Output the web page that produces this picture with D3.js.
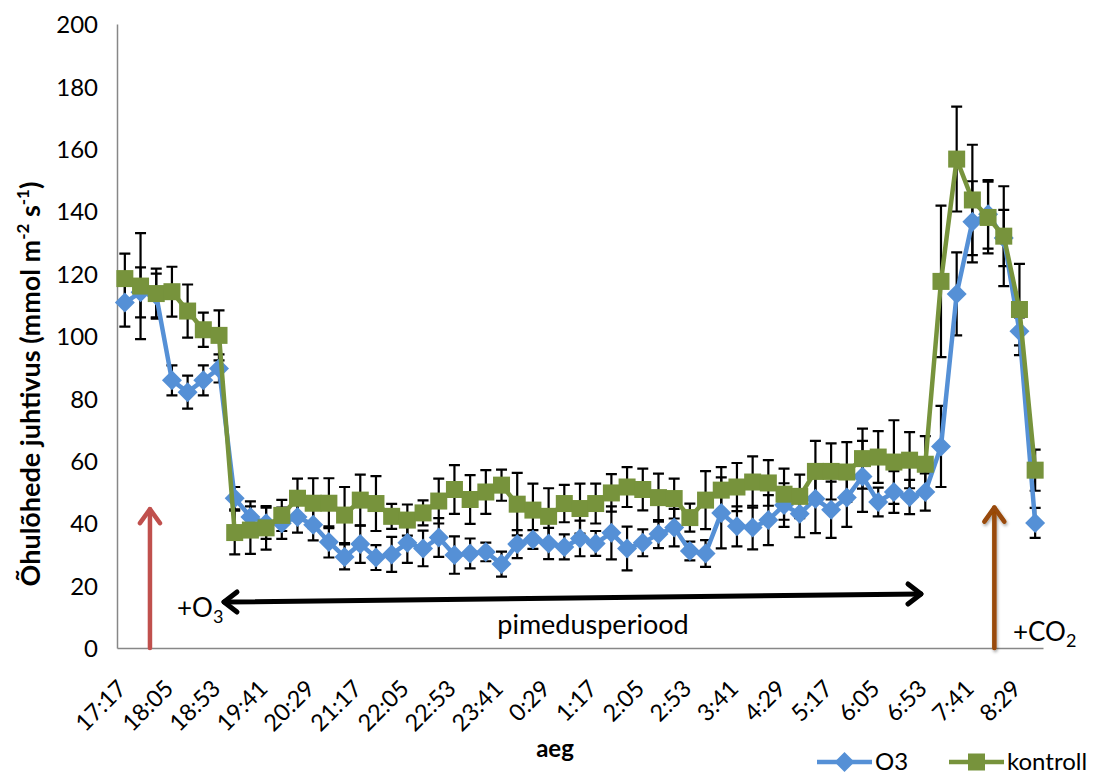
<!DOCTYPE html>
<html>
<head>
<meta charset="utf-8">
<script src="https://cdn.jsdelivr.net/npm/d3@7"></script>
<style>
  body { margin: 0; background: #fff; }
  text { font-family: Lato, "Open Sans", sans-serif; }
</style>
</head>
<body>
<svg id="chart"></svg>
<script>
const width = 1095;
const height = 776;

// measurement times, every 16 minutes
const times = ["17:17","17:33","17:49","18:05","18:21","18:37","18:53","19:09","19:25","19:41",
  "19:57","20:13","20:29","20:45","21:01","21:17","21:33","21:49","22:05","22:21",
  "22:37","22:53","23:09","23:25","23:41","23:57","0:13","0:29","0:45","1:01",
  "1:17","1:33","1:49","2:05","2:21","2:37","2:53","3:09","3:25","3:41",
  "3:57","4:13","4:29","4:45","5:01","5:17","5:33","5:49","6:05","6:21",
  "6:37","6:53","7:09","7:25","7:41","7:57","8:13","8:29","8:45"];

const xTickLabels = ["17:17","18:05","18:53","19:41","20:29","21:17","22:05","22:53","23:41","0:29",
  "1:17","2:05","2:53","3:41","4:29","5:17","6:05","6:53","7:41","8:29"];

const yTicks = [0, 20, 40, 60, 80, 100, 120, 140, 160, 180, 200];

const o3 = [110.7,114,113,85.8,82,85.8,89.6,48,42,40,
  40,42,39.5,34,29.2,33.3,29,30,33.7,31.9,
  35.4,29.8,30.3,30.8,26.9,33.3,34.8,33.5,32.4,35.1,
  33.5,36.9,31.9,33.7,36.5,38.6,31.1,30.3,43.3,39,
  38.6,41,45.8,43,47.8,44.3,48.2,55,46.8,50,
  48.4,50,64.6,113.5,136.6,139,131.4,101.5,40.1];

const o3Err = [7.7,8,7,4.8,5.3,4.8,4.5,3.6,5,5,
  5,5,5,5,4,6,4,5.6,6.4,5.7,
  6.2,6,4.8,3,4,4.5,3,5,4,5.7,
  4,8.5,7,4.3,4.5,6,3,4.3,11.4,6.4,
  7,8,7,7.5,11,9,9.4,11.4,4.6,6.7,
  5.5,6,13,13.3,13,11,9,4.5,4.8];

const kontroll = [118.4,116,113.6,114.2,108,102,100.2,37,37.8,38.5,
  42.5,48,46.4,46.4,42.6,47.4,46.3,42.2,41,43.3,
  47.1,50.8,47.6,50,52.2,46.1,44.2,42.2,46.3,44.7,
  46.3,49.7,51.6,50.8,48.2,47.9,41.8,47.4,50.6,51.6,
  53.2,52.9,49.3,48.6,56.6,56.6,56.4,60.7,61.2,59.6,
  60.2,58.9,117.5,156.7,143.6,138,132,108.5,57];

const kontrollErr = [8,17,8,8,8.5,5.5,8,7,7.6,7,
  5,6.3,8,8,9,8.2,8.8,4,5,4,
  7.2,7.8,7.8,7,5,10,8.5,9,6,8,
  6.4,6,6.4,6.7,7.7,6.4,4.5,9.3,7.4,7.7,
  8.2,7.3,8.2,7,9.8,9,9.6,9.6,8.3,13.4,
  9,9,24.3,16.8,17.7,11.5,16,14.6,6.6];

const blue = "#5590D6";
const green = "#77933C";

const svg = d3.select("#chart")
    .attr("width", width)
    .attr("height", height);

const x = d3.scaleBand().domain(times).range([117, 1043]);
const cx = t => x(t) + x.bandwidth() / 2;
const step = x.step();
const y = d3.scaleLinear().domain([0, 200]).range([648, 24]);

// Axes
svg.append("g")
    .attr("transform", "translate(117,0)")
    .call(d3.axisLeft(y).tickValues(yTicks).tickSize(0).tickSizeOuter(0).tickPadding(19))
    .attr("font-family", null)
    .attr("font-size", 24)
    .call(g => g.select(".domain").attr("stroke", "#878787").attr("stroke-width", 1.5))
    .call(g => g.selectAll("text").attr("fill", "#000").attr("dy", "0.36em"));

svg.append("g")
    .attr("transform", "translate(0,648)")
    .call(d3.axisBottom(x).tickValues(xTickLabels).tickSize(0).tickSizeOuter(0))
    .attr("font-family", null)
    .attr("font-size", 23.5)
    .call(g => g.select(".domain").attr("stroke", "#878787").attr("stroke-width", 1.5))
    .call(g => g.selectAll("text")
        .attr("fill", "#000")
        .attr("x", 0).attr("y", 0).attr("dy", 0)
        .attr("text-anchor", "end")
        .attr("transform", "translate(3,42) rotate(-45)"));

// Error bars
function errorBars(values, errs, cls) {
    const g = svg.append("g").attr("class", cls)
        .attr("stroke", "#000").attr("stroke-width", 2.2).attr("fill", "none");
    values.forEach((v, i) => {
        const xc = cx(times[i]);
        const y1 = y(v + errs[i]), y2 = y(v - errs[i]);
        g.append("path").attr("d", `M${xc},${y1}V${y2}M${xc - 5.5},${y1}H${xc + 5.5}M${xc - 5.5},${y2}H${xc + 5.5}`);
    });
}
errorBars(o3, o3Err, "err-o3");
errorBars(kontroll, kontrollErr, "err-kontroll");

const line = d3.line()
    .x((d, i) => cx(times[i]))
    .y(d => y(d));

const diamond = "M0,-10L10,0L0,10L-10,0Z";

// O3 series
svg.append("path")
    .datum(o3)
    .attr("fill", "none")
    .attr("stroke", blue)
    .attr("stroke-width", 4.5)
    .attr("stroke-linejoin", "round")
    .attr("d", line);

svg.selectAll(".o3-pt")
    .data(o3)
    .enter()
    .append("path")
    .attr("class", "o3-pt")
    .attr("d", diamond)
    .attr("transform", (d, i) => `translate(${cx(times[i])},${y(d)})`)
    .attr("fill", blue);

// kontroll series
svg.append("path")
    .datum(kontroll)
    .attr("fill", "none")
    .attr("stroke", green)
    .attr("stroke-width", 4.5)
    .attr("stroke-linejoin", "round")
    .attr("d", line);

svg.selectAll(".k-pt")
    .data(kontroll)
    .enter()
    .append("rect")
    .attr("class", "k-pt")
    .attr("x", (d, i) => cx(times[i]) - 8.5)
    .attr("y", d => y(d) - 8.5)
    .attr("width", 17)
    .attr("height", 17)
    .attr("fill", green);

// Annotations
const defs = svg.append("defs");
defs.append("filter").attr("id", "shadow")
    .attr("x", "-50%").attr("y", "-10%").attr("width", "200%").attr("height", "120%")
    .append("feDropShadow")
    .attr("dx", 1).attr("dy", 2).attr("stdDeviation", 1.5)
    .attr("flood-color", "#000").attr("flood-opacity", 0.35);

function upArrow(xPos, yTop, color, shadow) {
    const xa = x(times[0]) + xPos * step;
    const ya = y(yTop);
    const g = svg.append("g")
        .attr("stroke", color).attr("stroke-width", 4.5).attr("fill", "none")
        .attr("stroke-linecap", "round").attr("stroke-linejoin", "round");
    if (shadow) g.attr("filter", "url(#shadow)");
    g.append("path").attr("d", `M${xa},${y(0)}V${ya}`);
    g.append("path").attr("d", `M${xa - 10},${ya + 14}L${xa},${ya}L${xa + 10},${ya + 14}`);
}
upArrow(2.1, 44.5, "#C0504D", false);
upArrow(55.9, 45, "#984807", true);

// dark period double arrow
{
    const x1 = 224, y1 = 602, x2 = 921, y2 = 594;
    const g = svg.append("g")
        .attr("stroke", "#000").attr("stroke-width", 5).attr("fill", "none")
        .attr("stroke-linecap", "round").attr("stroke-linejoin", "round");
    g.append("path").attr("d", `M${x1},${y1}L${x2},${y2}`);
    g.append("path").attr("d", `M${x1 + 13},${y1 - 10}L${x1},${y1}L${x1 + 13},${y1 + 10}`);
    g.append("path").attr("d", `M${x2 - 13},${y2 - 10}L${x2},${y2}L${x2 - 13},${y2 + 10}`);
}

const o3Label = svg.append("text").attr("x", 177).attr("y", 617).attr("font-size", 26);
o3Label.append("tspan").text("+O");
o3Label.append("tspan").attr("dy", 6).attr("font-size", 18).text("3");

svg.append("text")
    .attr("x", 593).attr("y", 634)
    .attr("text-anchor", "middle")
    .attr("font-size", 27)
    .text("pimedusperiood");

const co2Label = svg.append("text").attr("x", 1013).attr("y", 641).attr("font-size", 26);
co2Label.append("tspan").text("+CO");
co2Label.append("tspan").attr("dy", 6).attr("font-size", 18).text("2");

// Axis titles
const yTitle = svg.append("text")
    .attr("transform", "translate(40,384) rotate(-90)")
    .attr("text-anchor", "middle")
    .attr("font-size", 27)
    .attr("font-weight", "bold");
yTitle.append("tspan").text("Õhulõhede juhtivus (mmol m");
yTitle.append("tspan").attr("font-size", 17).attr("dy", -11).text("-2");
yTitle.append("tspan").attr("dy", 11).text(" s");
yTitle.append("tspan").attr("font-size", 17).attr("dy", -11).text("-1");
yTitle.append("tspan").attr("dy", 11).text(")");

svg.append("text")
    .attr("x", 555).attr("y", 757)
    .attr("text-anchor", "middle")
    .attr("font-size", 24)
    .attr("font-weight", "bold")
    .text("aeg");

// Legend
const legend = svg.append("g").attr("class", "legend");
const legendItems = [
    { name: "O3", color: blue, x0: 817, shape: "diamond" },
    { name: "kontroll", color: green, x0: 949, shape: "square" }
];
legendItems.forEach(item => {
    const ly = 762;
    legend.append("line")
        .attr("x1", item.x0).attr("x2", item.x0 + 55)
        .attr("y1", ly).attr("y2", ly)
        .attr("stroke", item.color).attr("stroke-width", 4.5);
    if (item.shape === "diamond") {
        legend.append("path").attr("d", diamond)
            .attr("transform", `translate(${item.x0 + 27.5},${ly})`)
            .attr("fill", item.color);
    } else {
        legend.append("rect")
            .attr("x", item.x0 + 19).attr("y", ly - 8.5)
            .attr("width", 17).attr("height", 17)
            .attr("fill", item.color);
    }
    legend.append("text")
        .attr("x", item.x0 + 58).attr("y", ly + 8)
        .attr("font-size", 24)
        .text(item.name);
});
</script>
</body>
</html>
